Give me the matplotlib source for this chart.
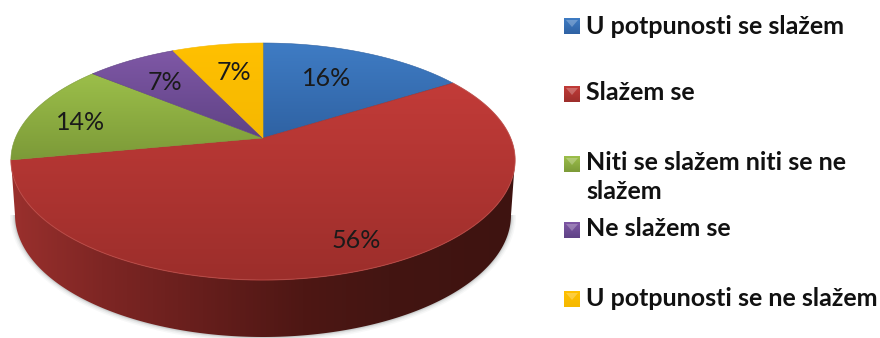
import numpy as np
import matplotlib
matplotlib.use('Agg')
import matplotlib.pyplot as plt
from matplotlib.patches import Polygon
from matplotlib.colors import LinearSegmentedColormap

plt.rcParams['font.family'] = ['Lato', 'DejaVu Sans']

# data
categories = ['U potpunosti se slažem', 'Slažem se', 'Niti se slažem niti se ne\nslažem',
              'Ne slažem se', 'U potpunosti se ne slažem']
values = [16, 56, 14, 7, 7]
labels = ['16%', '56%', '14%', '7%', '7%']
light_colors = ['#3f7cc4', '#c23b38', '#9cbf4a', '#7f58a6', '#ffc000']
dark_colors = ['#2f62a3', '#9c2e2b', '#7c9a38', '#5f4285', '#f5b800']

# layout in pixels
W, H = 880, 338
cx, cy = 263, 160      # centre of the top ellipse
rx, ry = 252, 117
front_ry = 120         # front half of the rim is a little deeper
apex_shift = 22        # the pie centre sits above the ellipse centre (perspective)
bx, by, brx, bry = 263, 215, 248, 122   # bottom rim
label_xy = [(327, 78), (356, 240), (81, 122), (165, 83), (234, 72)]
legend_y = [26, 92, 177, 229, 298]
swatch_y = [26, 94, 164, 230, 299]
swatch_x = 564
text_x = 586

fig = plt.figure(figsize=(W / 100, H / 100), dpi=100)
ax = fig.add_axes([0, 0, 1, 1])
ax.set_xlim(0, W)
ax.set_ylim(H, 0)
ax.axis('off')


def rim_point(theta):
    """point of the top rim for a clockwise angle from 12 o'clock"""
    k = apex_shift / ry
    u, v = np.sin(theta), np.cos(theta)
    w = 1 + k * v
    dx = 247.6 * u / w
    dy = (ry * v + apex_shift) / w
    if dy < 0:
        dy *= front_ry / ry
    return cx + dx, cy - dy


def gradient(c1, c2, extent, horizontal=False, clip=None, zorder=2):
    cmap = LinearSegmentedColormap.from_list('g', [c1, c2] if isinstance(c1, str) else c1)
    g = np.linspace(0, 1, 256)
    g = g.reshape(1, -1) if horizontal else g.reshape(-1, 1)
    im = ax.imshow(g, cmap=cmap, extent=extent, aspect='auto', zorder=zorder,
                   origin='upper', interpolation='bilinear')
    if clip is not None:
        clip.set_transform(ax.transData)
        im.set_clip_path(clip)
    return im


# shadow under the pie
t = np.linspace(0, np.pi, 200)
for grow, alpha in [(5, 0.05), (3.5, 0.08), (2, 0.12), (1, 0.16)]:
    ax.add_patch(Polygon(np.c_[bx + (brx + grow) * np.cos(t), by + (bry + grow) * np.sin(t)],
                         closed=True, fc='#707878', ec='none', alpha=alpha, zorder=1))

# side wall
t = np.linspace(np.pi, 0, 300)
top_arc = np.c_[cx + rx * np.cos(t), cy + front_ry * np.sin(t)]
bot_arc = np.c_[bx + brx * np.cos(t), by + bry * np.sin(t)][::-1]
side = Polygon(np.vstack([top_arc, bot_arc]), closed=True, fc='none', ec='none')
ax.add_patch(side)
gradient([(0, '#9a302d'), (0.18, '#7e2624'), (0.38, '#661e1c'), (0.58, '#4e1714'),
          (0.75, '#431512'), (1, '#3e1310')], None, (11, 515, 340, 160),
         horizontal=True, clip=side)

# top face, one wedge per value
edges = np.cumsum([0] + values) / sum(values) * 2 * np.pi
apex = (cx, cy - apex_shift)
for i, v in enumerate(values):
    th = np.linspace(edges[i], edges[i + 1], 200)
    rim = np.array([rim_point(a) for a in th])
    pts = np.vstack([apex, rim])
    poly = Polygon(pts, closed=True, fc='none', ec='none')
    ax.add_patch(poly)
    gradient(light_colors[i], dark_colors[i],
             (pts[:, 0].min() - 1, pts[:, 0].max() + 1, pts[:, 1].max(), pts[:, 1].min()),
             clip=poly, zorder=3)
    ax.add_patch(Polygon(pts, closed=True, fc='none', ec=dark_colors[i], lw=0.4, zorder=3))
    ax.text(*label_xy[i], labels[i], fontsize=18, color='#1a1a1a', ha='center',
            va='center', zorder=5)

# thin highlight on the front rim
front = np.array([rim_point(a) for a in np.linspace(edges[1], edges[2], 300)])
ax.plot(front[:, 0], front[:, 1], color='#cf5a55', lw=0.8, alpha=0.5, zorder=4)

# legend
for i, name in enumerate(categories):
    y = legend_y[i]
    sy = swatch_y[i]
    gradient(light_colors[i], dark_colors[i], (swatch_x, swatch_x + 16, sy + 8, sy - 8), zorder=3)
    tri = [(swatch_x + 2, sy - 6), (swatch_x + 14, sy - 6), (swatch_x + 8, sy + 1)]
    ax.add_patch(Polygon(tri, closed=True, fc='white', ec='none', alpha=0.25, zorder=4))
    ax.text(text_x, y, name, fontsize=18, fontweight='bold', color='#111111',
            va='center', ha='left', linespacing=1.35)

ax.set_xlim(0, W)
ax.set_ylim(H, 0)
fig.savefig('out.png', dpi=100, facecolor='white')
